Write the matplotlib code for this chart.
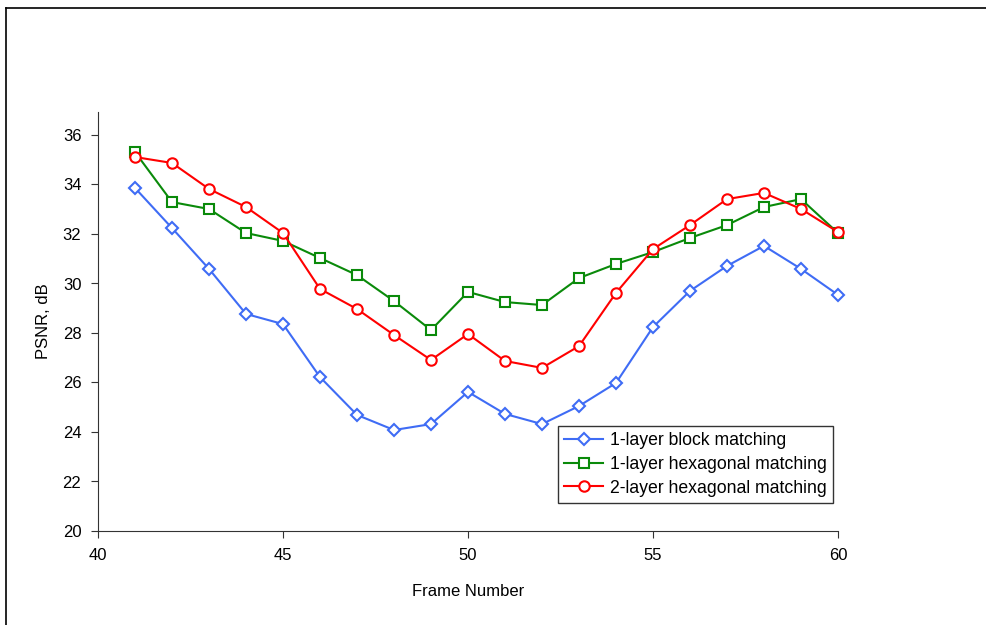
"""PSNR per frame for three motion estimation schemes."""
import numpy as np
import matplotlib
matplotlib.use("Agg")
import matplotlib.pyplot as plt
from matplotlib.lines import Line2D

plt.rcParams["font.family"] = ["Liberation Sans", "DejaVu Sans"]
plt.rcParams["font.size"] = 12

# -------------------------------------------------------
# Data.
# -------------------------------------------------------
frames = list(range(41, 61))
block_1layer = [33.86, 32.24, 30.59, 28.77, 28.36, 26.22, 24.69, 24.08, 24.32, 25.62,
                24.73, 24.32, 25.05, 25.98, 28.24, 29.70, 30.71, 31.52, 30.59, 29.54]
hex_1layer = [35.31, 33.29, 33.01, 32.04, 31.72, 31.03, 30.34, 29.29, 28.12, 29.66,
              29.25, 29.13, 30.22, 30.79, 31.27, 31.84, 32.36, 33.09, 33.41, 32.04]
hex_2layer = [35.11, 34.87, 33.82, 33.09, 32.04, 29.78, 28.97, 27.92, 26.91, 27.96,
              26.87, 26.59, 27.47, 29.62, 31.39, 32.36, 33.41, 33.66, 33.01, 32.08]
labels = ["1-layer block matching", "1-layer hexagonal matching", "2-layer hexagonal matching"]

# -------------------------------------------------------
# Plot.
# -------------------------------------------------------
styles = [
    (block_1layer, "#3f6cf5", "D", 6),
    (hex_1layer, "#0a8a0a", "s", 7),
    (hex_2layer, "#ff0000", "o", 7.5),
]

fig = plt.figure(figsize=(9.86, 6.25), dpi=100)
ax = fig.add_axes([98/986, 1-531/625, (838-98)/986, (531-112)/625])

for (vals, c, m, ms), label in zip(styles, labels):
    ax.plot(
        frames,
        vals,
        color=c,
        marker=m,
        markersize=ms,
        markerfacecolor="white",
        markeredgecolor=c,
        markeredgewidth=1.5,
        linewidth=1.5,
        label=label,
        clip_on=False,
        )

ax.set_xlim(40, 60)
ax.set_ylim(20, 20+(531-112)/24.75)
ax.set_xticks(np.arange(40, 61, 5))
ax.set_yticks(np.arange(20, 37, 2))
ax.spines["top"].set_visible(False)
ax.spines["right"].set_visible(False)
ax.spines["left"].set_color("#333333")
ax.spines["bottom"].set_color("#333333")
ax.tick_params(axis="both", direction="out", length=5, color="#333333", pad=7)
ax.set_xlabel("Frame Number", labelpad=15)
ax.set_ylabel("PSNR, dB", labelpad=8)

leg = ax.legend(
    loc="upper left",
    bbox_to_anchor=(558/986, 1-426/625),
    bbox_transform=fig.transFigure,
    frameon=True,
    fancybox=False,
    edgecolor="black",
    fontsize=12.7,
    handlelength=2.2,
    borderpad=0.35,
    labelspacing=0.38,
    handletextpad=0.4,
    borderaxespad=0,
    )
leg.get_frame().set_linewidth(1.0)

# outer frame of the chart area
fig.add_artist(Line2D([6/986, 1], [1-8/625, 1-8/625], color="black", lw=1.2, transform=fig.transFigure))
fig.add_artist(Line2D([6/986, 6/986], [0, 1-8/625], color="black", lw=1.2, transform=fig.transFigure))

fig.savefig("out.png", dpi=100)
